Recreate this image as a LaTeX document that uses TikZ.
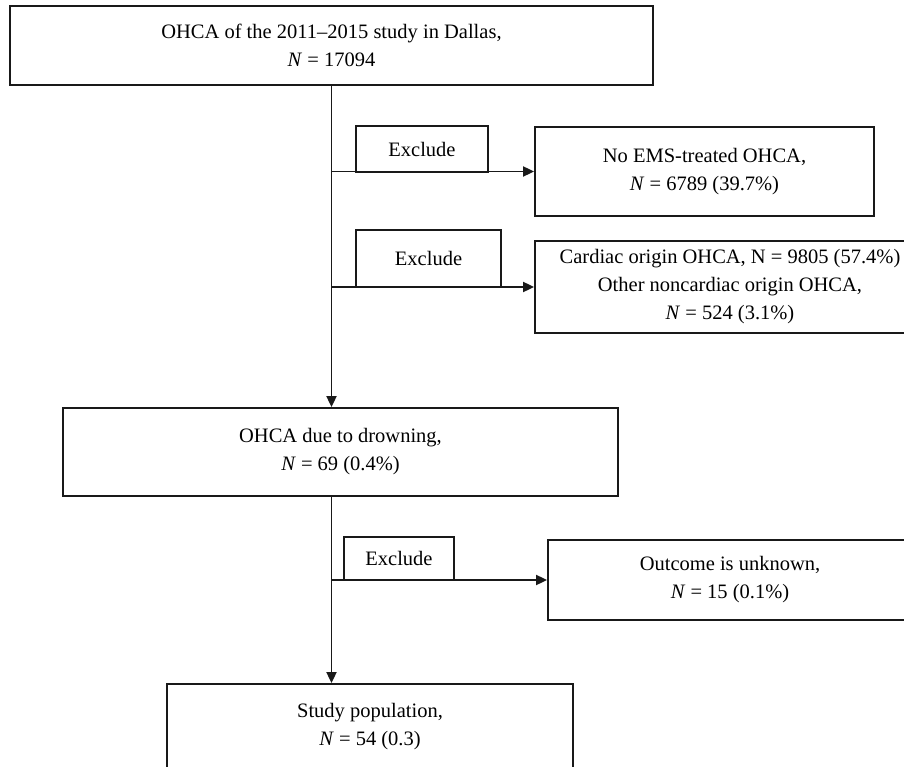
\documentclass[tikz,border=0pt]{standalone}
\usepackage{fontspec}
\setmainfont{Liberation Serif}
\usetikzlibrary{arrows.meta}
\tikzstyle{box}=[draw=black!90,rectangle,line width=1.8pt,align=center,inner sep=0pt,font=\fontsize{20.5}{28}\selectfont]
\tikzstyle{line}=[draw=black!90,line width=1.8pt,-{Triangle[length=11pt,width=10pt]}]
\begin{document}
\begin{tikzpicture}[x=1pt,y=-1pt]
  \useasboundingbox (0,0) rectangle (904,767);
  % main column
  \node[box,minimum width=643,minimum height=79] (total) at (331.5,45.5)
    {OHCA of the 2011--2015 study in Dallas,\\\textit{N} = 17094};
  \node[box,minimum width=555,minimum height=88] (drown) at (340.5,452)
    {OHCA due to drowning,\\\textit{N} = 69 (0.4\%)};
  \node[box,minimum width=406,minimum height=130] (study) at (370,749)
    {Study population,\\\textit{N} = 54 (0.3)\\[22pt]};
  % excluded
  \node[box,minimum width=339,minimum height=89] (noEMS) at (704.5,171.5)
    {No EMS-treated OHCA,\\\textit{N} = 6789 (39.7\%)};
  \node[box,minimum width=390,minimum height=92] (cardiac) at (730,287)
    {Cardiac origin OHCA, N = 9805 (57.4\%)\\Other noncardiac origin OHCA,\\\textit{N} = 524 (3.1\%)};
  \node[box,minimum width=364,minimum height=80] (unknown) at (730,580)
    {Outcome is unknown,\\\textit{N} = 15 (0.1\%)};
  % exclude labels
  \node[box,minimum width=132,minimum height=46] (exclA) at (422,149) {Exclude};
  \node[box,minimum width=145,minimum height=57] (exclB) at (428.5,258.5) {Exclude};
  \node[box,minimum width=110,minimum height=43] (exclC) at (399,558.5) {Exclude};
  % arrows
  \coordinate (lowdrop) at (total.south |- drown.south);
  \path[line] (total.south) -- (total.south |- drown.north);
  \path[line] (total.south |- noEMS.west) -- (noEMS.west);
  \path[line] (total.south |- cardiac.west) -- (cardiac.west);
  \path[line] (lowdrop) -- (lowdrop |- study.north);
  \path[line] (lowdrop |- unknown.west) -- (unknown.west);
\end{tikzpicture}
\end{document}
